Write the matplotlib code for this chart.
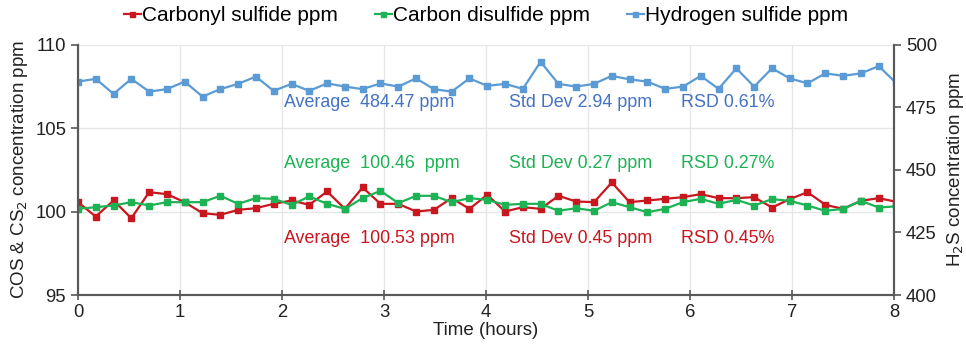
import matplotlib
matplotlib.use("Agg")
import matplotlib.pyplot as plt

plt.rcParams['font.family'] = ['Liberation Sans', 'DejaVu Sans']

# sampling times (hours)
hours = [0.0, 0.174, 0.349, 0.523, 0.698, 0.872, 1.046, 1.221, 1.395, 1.570,
         1.744, 1.918, 2.093, 2.267, 2.442, 2.616, 2.790, 2.965, 3.139, 3.314,
         3.488, 3.662, 3.837, 4.011, 4.186, 4.360, 4.534, 4.709, 4.883, 5.058,
         5.232, 5.406, 5.581, 5.755, 5.930, 6.104, 6.278, 6.453, 6.627, 6.802,
         6.976, 7.150, 7.325, 7.499, 7.674, 7.848, 8.022]

cos_ppm = [100.56, 99.70, 100.66, 99.60, 101.16, 101.04, 100.56, 99.90, 99.80, 100.10,
           100.20, 100.46, 100.66, 100.40, 101.20, 100.16, 101.44, 100.46, 100.46, 100.00,
           100.10, 100.80, 100.16, 101.00, 100.00, 100.26, 100.16, 100.94, 100.60, 100.56,
           101.74, 100.56, 100.66, 100.76, 100.86, 101.04, 100.80, 100.80, 100.86, 100.24,
           100.74, 101.16, 100.40, 100.16, 100.64, 100.80, 100.58]

cs2_ppm = [100.16, 100.26, 100.36, 100.56, 100.36, 100.56, 100.56, 100.56, 100.94, 100.46,
           100.80, 100.76, 100.40, 100.90, 100.46, 100.16, 100.80, 101.24, 100.50, 100.94,
           100.94, 100.56, 100.80, 100.70, 100.40, 100.46, 100.46, 100.04, 100.20, 100.04,
           100.56, 100.26, 99.96, 100.16, 100.56, 100.76, 100.46, 100.70, 100.36, 100.74,
           100.64, 100.36, 100.04, 100.16, 100.64, 100.24, 100.31]

h2s_ppm = [485.2, 486.3, 480.3, 486.3, 481.2, 482.2, 485.2, 479.2, 482.2, 484.3,
           487.2, 481.5, 484.3, 481.5, 484.5, 483.2, 482.2, 484.5, 483.2, 486.5,
           482.2, 481.2, 486.5, 483.5, 484.3, 482.3, 493.1, 484.3, 483.2, 484.3,
           487.5, 486.1, 485.2, 482.3, 483.2, 487.5, 482.3, 490.5, 483.2, 490.5,
           486.5, 484.5, 488.5, 487.5, 488.5, 491.4, 484.5]

red = '#C8171E'
green = '#1DB254'
blue = '#5B9BD5'
blue_txt = '#4472C4'
axcol = '#595959'

fig = plt.figure(figsize=(9.66, 3.45), dpi=100)
ax = fig.add_axes([0.0807, 0.1449, 0.845, 0.726])
ax2 = ax.twinx()

l1, = ax.plot(hours, cos_ppm, color=red, marker='s', markersize=4.5, lw=1.6,
              label='Carbonyl sulfide ppm')
l2, = ax.plot(hours, cs2_ppm, color=green, marker='s', markersize=4.5, lw=1.6,
              label='Carbon disulfide ppm')
l3, = ax2.plot(hours, h2s_ppm, color=blue, marker='s', markersize=4.5, lw=1.6,
               label='Hydrogen sulfide ppm')

ax.set_xlim(0, 8)
ax.set_ylim(95, 110)
ax2.set_ylim(400, 500)
ax.set_xticks(range(0, 9))
ax.set_yticks([95, 100, 105, 110])
ax2.set_yticks([400, 425, 450, 475, 500])

ax.grid(True, color='#E6E6E6', lw=1.0)
ax.set_axisbelow(True)

for a in (ax, ax2):
    a.spines['top'].set_visible(False)
    for s in ('left', 'right', 'bottom'):
        a.spines[s].set_color(axcol)
        a.spines[s].set_linewidth(1.5)
    a.tick_params(colors=axcol, labelcolor='#222222', labelsize=13.3, width=1.2, length=5)
ax.tick_params(axis='x', direction='inout', length=7, pad=3)

ax.set_xlabel('Time (hours)', fontsize=13.5, color='#222222', labelpad=1)
ax.set_ylabel('COS & CS$_2$ concentration ppm', fontsize=13.5, color='#222222', labelpad=4)
ax2.set_ylabel('H$_2$S concentration ppm', fontsize=13.5, color='#222222', labelpad=6)

# statistics annotations
stats_rows = [
    (106.5, blue_txt, ['Average  484.47 ppm', 'Std Dev 2.94 ppm', 'RSD 0.61%']),
    (102.9, green, ['Average  100.46  ppm', 'Std Dev 0.27 ppm', 'RSD 0.27%']),
    (98.4, red, ['Average  100.53 ppm', 'Std Dev 0.45 ppm', 'RSD 0.45%']),
]
col_x = [2.02, 4.22, 5.91]
for y, c, texts in stats_rows:
    for x, t in zip(col_x, texts):
        ax.text(x, y, t, color=c, fontsize=12.9, va='center', ha='left')

fig.legend(handles=[l1, l2, l3], loc='center', bbox_to_anchor=(0.503, 0.955), ncol=3,
           frameon=False, fontsize=15, handlelength=0.8, handletextpad=0.05,
           columnspacing=1.8, markerscale=0.8)

fig.savefig('out.png', dpi=100)
